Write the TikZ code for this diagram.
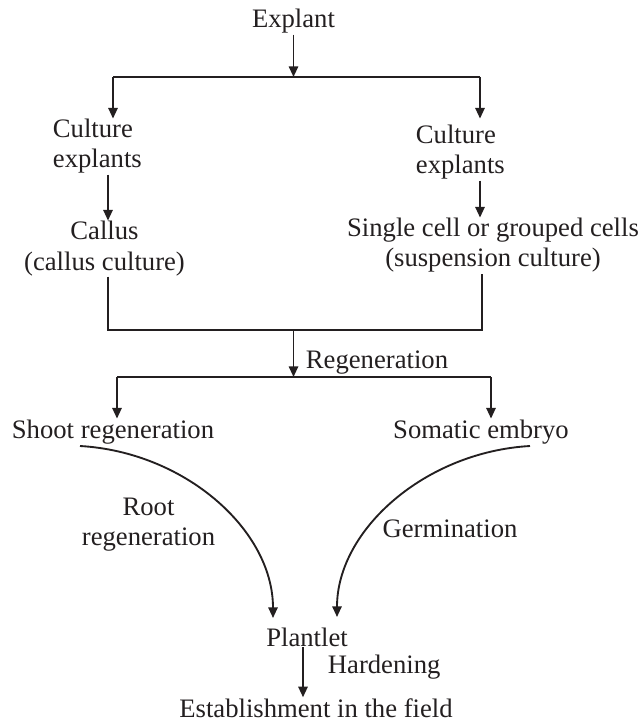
\documentclass[tikz,border=0pt]{standalone}
\usepackage{fontspec}
\setmainfont{Liberation Serif}
\usetikzlibrary{arrows.meta}
\definecolor{ink}{RGB}{35,31,32}
\begin{document}
\begin{tikzpicture}[x=0.75pt,y=-0.75pt,line width=1.4pt,ink,
    >={Triangle[length=8pt,width=7pt]},
    every node/.style={inner sep=0pt,text=ink,font=\fontsize{20}{22.5}\selectfont}]
\useasboundingbox (0,0) rectangle (640,723);
% texts
\node (explant) at (293.5,28) [anchor=base]{Explant};
\node (cultA) at (52,168) [anchor=base west,align=left]{Culture\\explants};
\node (cultB) at (415,174) [anchor=base west,align=left]{Culture\\explants};
\node (callus) at (104.5,270) [anchor=base,align=center]{Callus\\(callus culture)};
\node (susp) at (493,267) [anchor=base,align=center]{Single cell or grouped cells\\(suspension culture)};
\node (regen) at (305,368) [anchor=base west]{Regeneration};
\node (shoot) at (113,438) [anchor=base]{Shoot regeneration};
\node (somatic) at (481,438) [anchor=base]{Somatic embryo};
\node (root) at (148.5,545) [anchor=base,align=center]{Root\\regeneration};
\node (germ) at (450,537) [anchor=base]{Germination};
\node (plantlet) at (307,646) [anchor=base]{Plantlet};
\node (harden) at (327,673) [anchor=base west]{Hardening};
\node (estab) at (316,717) [anchor=base]{Establishment in the field};
% branching points
\coordinate (split) at (293.5,77);
\coordinate (barL) at (113,77);
\coordinate (barR) at (480,77);
\coordinate (mergeL) at (108,330);
\coordinate (mergeR) at (482,330);
\coordinate (mergeM) at (293.5,330);
\coordinate (splitM) at (293.5,377);
\coordinate (bar2L) at (117,377);
\coordinate (bar2R) at (491,377);
\coordinate (rootS) at (80,446);
\coordinate (rootE) at (273,618);
\coordinate (germS) at (530,446);
\coordinate (germE) at (337,617);
\coordinate (hard) at (303,646);
% connectors
\draw[->](explant.south)--(split);
\draw(barL)--(barR);
\draw[->](barL)--(barL |- cultA.north);
\draw[->](barR)--([yshift=4.5pt]barR |- cultB.north);
\draw[->](mergeL |- cultA.south)--(mergeL |- callus.north);
\draw[->](cultB.south -| barR)--(susp.north -| barR);
\draw(callus.south -| mergeL)--(mergeL)--(mergeR)--(susp.south -| mergeR);
\draw[->](mergeM)--(splitM);
\draw(bar2L)--(bar2R);
\draw[->](bar2L)--(bar2L |- shoot.north);
\draw[->](bar2R)--(bar2R |- somatic.north);
\draw[->](rootS) .. controls (185,452) and (273,530) .. (rootE);
\draw[->](germS) .. controls (425,452) and (337,530) .. (germE);
\draw[->](hard |- plantlet.south)--(hard |- estab.north);
\end{tikzpicture}
\end{document}
